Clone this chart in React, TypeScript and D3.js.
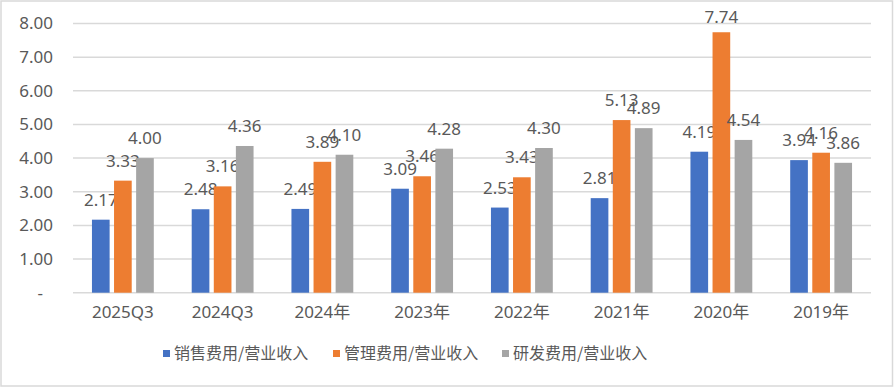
import React, { useEffect, useRef } from "react";
import * as d3 from "d3";

const categories = ["2025Q3", "2024Q3", "2024年", "2023年", "2022年", "2021年", "2020年", "2019年"];
const seriesNames = ["销售费用/营业收入", "管理费用/营业收入", "研发费用/营业收入"];
const sales = [2.17, 2.48, 2.49, 3.09, 2.53, 2.81, 4.19, 3.94];
const admin = [3.33, 3.16, 3.89, 3.46, 3.43, 5.13, 7.74, 4.16];
const rnd = [4.0, 4.36, 4.1, 4.28, 4.3, 4.89, 4.54, 3.86];
const yTicks = [0, 1, 2, 3, 4, 5, 6, 7, 8];
const colors = ["#4472C4", "#ED7D31", "#A5A5A5"];

const W = 895;
const H = 388;
const FONT = "'Noto Sans', 'Noto Sans CJK SC', sans-serif";
const CJK = "'Noto Sans CJK SC', sans-serif";

export default function App() {
  const ref = useRef<SVGSVGElement>(null);

  useEffect(() => {
    document.body.style.margin = "0";
    const svg = d3.select(ref.current);
    svg.selectAll("*").remove();

    const values = [sales, admin, rnd];
    const left = 73;
    const right = 871;
    const top = 23.5;
    const bottom = 292.7;

    // frame
    svg.append("rect")
      .attr("x", 1).attr("y", 1)
      .attr("width", W - 3.5).attr("height", H - 3)
      .attr("fill", "#fff")
      .attr("stroke", "#d9d9d9")
      .attr("stroke-width", 1.5);

    const y = d3.scaleLinear().domain([0, 8]).range([bottom, top]);
    const x0 = d3.scaleBand<string>().domain(categories).range([left, right])
      .paddingInner(0.38).paddingOuter(0.19);
    const x1 = d3.scaleBand<number>().domain([0, 1, 2]).range([0, x0.bandwidth()])
      .paddingInner(0.2);

    // grid
    svg.append("g")
      .selectAll("line")
      .data(yTicks)
      .enter()
      .append("line")
      .attr("x1", left).attr("x2", right)
      .attr("y1", d => y(d)).attr("y2", d => y(d))
      .attr("stroke", "#d9d9d9")
      .attr("stroke-width", 1.5);

    // y labels
    svg.append("g")
      .selectAll("text")
      .data(yTicks)
      .enter()
      .append("text")
      .attr("x", d => (d === 0 ? 43 : 53))
      .attr("y", d => y(d))
      .attr("dy", "0.35em")
      .attr("text-anchor", "end")
      .attr("font-family", FONT)
      .attr("font-size", 17)
      .attr("fill", "#595959")
      .text(d => (d === 0 ? "-" : d.toFixed(2)));

    // bars
    values.forEach((vals, si) => {
      const g = svg.append("g");
      g.selectAll("rect")
        .data(vals)
        .enter()
        .append("rect")
        .attr("x", (d, i) => (x0(categories[i]) as number) + (x1(si) as number))
        .attr("y", d => y(d))
        .attr("width", x1.bandwidth())
        .attr("height", d => y(0) - y(d))
        .attr("fill", colors[si]);

      g.selectAll("text")
        .data(vals)
        .enter()
        .append("text")
        .attr("x", (d, i) => (x0(categories[i]) as number) + (x1(si) as number) + x1.bandwidth() / 2)
        .attr("y", d => Math.max(y(d) - 14, 23))
        .attr("text-anchor", "middle")
        .attr("font-family", FONT)
        .attr("font-size", 17)
        .attr("fill", "#595959")
        .text(d => d.toFixed(2));
    });

    // x labels
    svg.append("g")
      .selectAll("text")
      .data(categories)
      .enter()
      .append("text")
      .attr("x", d => (x0(d) as number) + x0.bandwidth() / 2)
      .attr("y", 318)
      .attr("text-anchor", "middle")
      .attr("font-family", FONT)
      .attr("font-size", 17)
      .attr("fill", "#595959")
      .text(d => d);

    // legend
    const legendX = [163, 333, 502];
    const lg = svg.append("g");
    seriesNames.forEach((name, i) => {
      lg.append("rect")
        .attr("x", legendX[i]).attr("y", 350)
        .attr("width", 7).attr("height", 7)
        .attr("fill", colors[i]);
      lg.append("text")
        .attr("x", legendX[i] + 11)
        .attr("y", 353.5)
        .attr("dy", "0.35em")
        .attr("font-family", CJK)
        .attr("font-size", 16)
        .attr("fill", "#595959")
        .text(name);
    });
  }, []);

  return <svg ref={ref} width={W} height={H} style={{ display: "block" }} />;
}
